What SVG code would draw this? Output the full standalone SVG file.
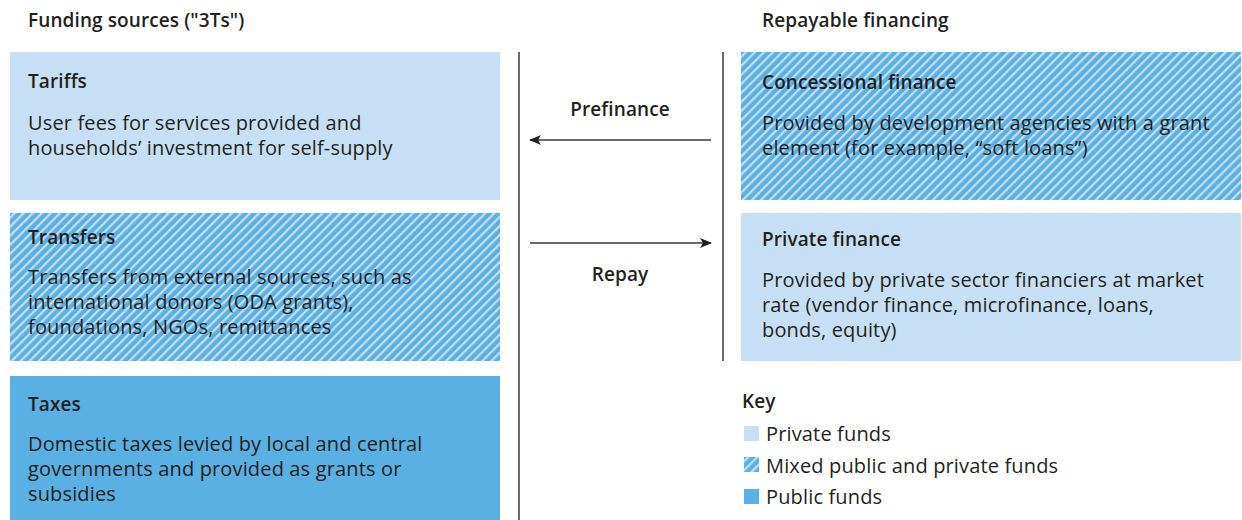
<svg xmlns="http://www.w3.org/2000/svg" width="1242" height="520" viewBox="0 0 1242 520">
  <style>
    text { font-family: "Open Sans", "Noto Sans", "Liberation Sans", sans-serif; fill: #231f20; font-size: 20px; letter-spacing: 0.15px; }
    .title { font-weight: 600; font-size: 19px; letter-spacing: 0.1px; }
    .center { text-anchor: middle; }
    .private { fill: #c6dff4; }
    .public { fill: #5aafe3; }
    .mixed { fill: url(#hatch); }
    .rule { stroke: #3a3a3a; stroke-width: 1.5; fill: none; }
    .flow { stroke: #3a3a3a; stroke-width: 1.5; fill: none; marker-end: url(#arrow); }
  </style>
  <defs>
    <pattern id="hatch" patternUnits="userSpaceOnUse" width="6.4" height="6.4" patternTransform="rotate(45)">
      <rect width="6.4" height="6.4" fill="#5aafe3"/>
      <rect width="2.2" height="6.4" fill="#c6dff4"/>
    </pattern>
    <marker id="arrow" markerWidth="12" markerHeight="10" refX="11" refY="5" orient="auto" markerUnits="userSpaceOnUse">
      <path d="M0,0 L12,5 L0,10 L3,5 Z" fill="#231f20"/>
    </marker>
  </defs>

  <!-- column headings -->
  <text class="title" x="28" y="27">Funding sources ("3Ts")</text>
  <text class="title" x="762" y="27">Repayable financing</text>

  <!-- funding sources -->
  <g id="tariffs">
    <rect class="private" x="10" y="52" width="490" height="148"/>
    <text class="title" x="28" y="88">Tariffs</text>
    <text x="28" y="130">User fees for services provided and</text>
    <text x="28" y="155">households’ investment for self-supply</text>
  </g>
  <g id="transfers">
    <rect class="mixed" x="10" y="213" width="490" height="148"/>
    <text class="title" x="28" y="244">Transfers</text>
    <text x="28" y="284">Transfers from external sources, such as</text>
    <text x="28" y="309">international donors (ODA grants),</text>
    <text x="28" y="334">foundations, NGOs, remittances</text>
  </g>
  <g id="taxes">
    <rect class="public" x="10" y="376" width="490" height="144"/>
    <text class="title" x="28" y="411">Taxes</text>
    <text x="28" y="451">Domestic taxes levied by local and central</text>
    <text x="28" y="476">governments and provided as grants or</text>
    <text x="28" y="501">subsidies</text>
  </g>

  <!-- repayable financing -->
  <g id="concessional">
    <rect class="mixed" x="741" y="52" width="500" height="148"/>
    <text class="title" x="762" y="89">Concessional finance</text>
    <text x="762" y="130">Provided by development agencies with a grant</text>
    <text x="762" y="155">element (for example, “soft loans”)</text>
  </g>
  <g id="private-finance">
    <rect class="private" x="741" y="213" width="500" height="148"/>
    <text class="title" x="762" y="246">Private finance</text>
    <text x="762" y="287">Provided by private sector financiers at market</text>
    <text x="762" y="312">rate (vendor finance, microfinance, loans,</text>
    <text x="762" y="337">bonds, equity)</text>
  </g>

  <!-- connectors -->
  <g id="connectors">
    <line class="rule" x1="519" y1="52" x2="519" y2="520"/>
    <line class="rule" x1="723" y1="52" x2="723" y2="361"/>
    <line class="flow" x1="711" y1="140" x2="530" y2="140"/>
    <line class="flow" x1="530" y1="243" x2="711" y2="243"/>
    <text class="title center" x="620" y="116">Prefinance</text>
    <text class="title center" x="620" y="281">Repay</text>
  </g>

  <!-- key -->
  <g id="key">
    <text class="title" x="742" y="408">Key</text>
    <rect class="private" x="744" y="426" width="15" height="15"/>
    <text x="766" y="441">Private funds</text>
    <rect class="mixed" x="744" y="457" width="15" height="15"/>
    <text x="766" y="473">Mixed public and private funds</text>
    <rect class="public" x="744" y="489" width="15" height="15"/>
    <text x="766" y="504">Public funds</text>
  </g>
</svg>
